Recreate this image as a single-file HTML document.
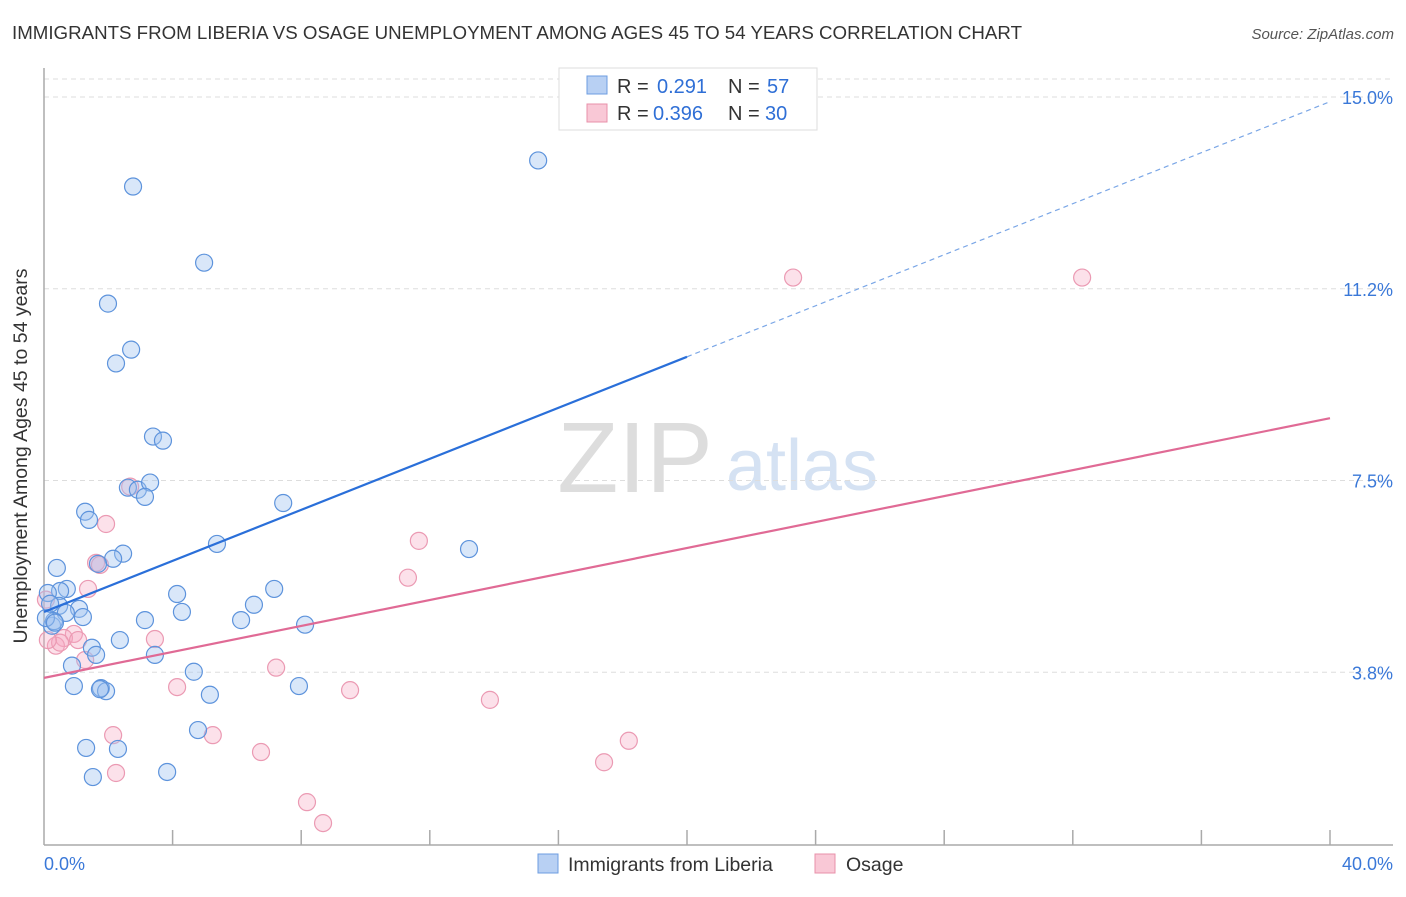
<!DOCTYPE html>
<html><head><meta charset="utf-8"><style>
body{margin:0;background:#fff;font-family:"Liberation Sans",sans-serif}
svg text{font-family:"Liberation Sans",sans-serif}
</style></head><body>
<svg id="chart" width="1406" height="892" viewBox="0 0 1406 892" xmlns="http://www.w3.org/2000/svg">
<text x="12" y="39" font-size="18" fill="#333" textLength="1010" lengthAdjust="spacingAndGlyphs">IMMIGRANTS FROM LIBERIA VS OSAGE UNEMPLOYMENT AMONG AGES 45 TO 54 YEARS CORRELATION CHART</text>
<text x="1394" y="39" font-size="15" fill="#555" font-style="italic" text-anchor="end">Source: ZipAtlas.com</text>
<g><text x="635" y="492" font-size="100" fill="#ddd" font-family="Liberation Serif" text-anchor="middle">ZIP</text><text x="802" y="490" font-size="72" fill="#d5e2f3" text-anchor="middle">atlas</text></g>
<g id="grid"></g>
<g id="axes"></g>
<g id="pts"></g>
<g id="trend"></g>
<text x="27" y="456" font-size="19.5" fill="#333" text-anchor="middle" transform="rotate(-90 27 456)">Unemployment Among Ages 45 to 54 years</text>
<g>
<rect x="559" y="68" width="258" height="62" fill="#fff" stroke="#ddd"/>
<rect x="587" y="76" width="20" height="18" fill="#b8d0f3" stroke="#6d9de0"/>
<text y="93" font-size="20" fill="#333"><tspan x="617">R =</tspan><tspan x="657" fill="#2f6fd6">0.291</tspan><tspan x="728">N =</tspan><tspan x="767" fill="#2f6fd6">57</tspan></text>
<rect x="587" y="104" width="20" height="18" fill="#f9c8d6" stroke="#e890aa"/>
<text y="120" font-size="20" fill="#333"><tspan x="617">R =</tspan><tspan x="653" fill="#2f6fd6">0.396</tspan><tspan x="728">N =</tspan><tspan x="765" fill="#2f6fd6">30</tspan></text>
</g>
<g>
<rect x="538" y="854" width="20" height="19" fill="#b8d0f3" stroke="#6d9de0"/>
<text x="568" y="871" font-size="19.5" fill="#333">Immigrants from Liberia</text>
<rect x="815" y="854" width="20" height="19" fill="#f9c8d6" stroke="#e890aa"/>
<text x="846" y="871" font-size="19.5" fill="#333">Osage</text>
</g>
</svg>
<script>
const xTicks=[0,40];
const yTicks=[3.75,7.5,11.25,15];
const yTickLabels=["3.8%","7.5%","11.2%","15.0%"];
const blueX=[2.77,15.37,4.98,1.99,2.71,2.24,3.39,3.70,2.61,2.92,3.30,3.14,7.44,1.28,1.40,5.38,13.22,2.46,2.15,0.40,1.68,0.71,0.50,7.16,4.14,0.12,0.47,1.09,0.68,6.53,4.29,1.21,3.14,6.13,8.12,0.25,0.31,2.36,1.49,1.62,3.45,0.87,4.66,0.93,1.77,1.93,5.16,7.93,1.31,2.30,4.79,1.52,3.83,0.06,0.19,1.74,0.34];
const blueY=[13.25,13.76,11.76,10.96,10.06,9.79,8.36,8.28,7.36,7.32,7.46,7.18,7.06,6.89,6.73,6.26,6.16,6.07,5.97,5.79,5.87,5.38,5.34,5.38,5.28,5.30,5.05,4.99,4.91,5.07,4.93,4.83,4.77,4.77,4.68,4.66,4.75,4.38,4.23,4.09,4.09,3.88,3.76,3.48,3.44,3.38,3.31,3.48,2.27,2.25,2.62,1.70,1.80,4.81,5.09,3.42,4.72];
const pinkX=[23.30,32.29,1.93,2.68,11.66,11.32,1.62,1.74,1.37,0.93,0.62,1.06,3.45,0.37,0.50,7.22,4.14,9.52,13.87,5.25,2.15,18.19,6.75,17.42,2.24,8.18,8.68,0.12,1.28,0.06];
const pinkY=[11.47,11.47,6.65,7.38,6.32,5.60,5.89,5.85,5.38,4.50,4.42,4.38,4.40,4.27,4.33,3.84,3.46,3.40,3.21,2.52,2.52,2.41,2.19,1.99,1.78,1.21,0.80,4.38,3.99,5.17];
const blueFit=[4.93,9.92];
const pinkFit=[3.64,8.72];
const NS="http://www.w3.org/2000/svg";
const X=v=>44+v/40*1286, Y=v=>864-v*51.13;
function mk(t,a,p){const e=document.createElementNS(NS,t);for(const k in a)e.setAttribute(k,a[k]);p.appendChild(e);return e;}
const grid=document.getElementById('grid'),axes=document.getElementById('axes');
yTicks.forEach((v,i)=>{
 const l=mk('line',{x1:44,x2:1393,y1:Y(v),y2:Y(v),stroke:'#ddd','stroke-dasharray':'5,4'},grid);
 
 
 const t=mk('text',{x:1393,y:Y(v)+7,'font-size':18,fill:'#3a78d8','text-anchor':'end'},axes);
 t.textContent=yTickLabels[i];
 
 
});
const tl=mk('line',{x1:44,x2:1393,y1:79,y2:79,stroke:'#ddd','stroke-dasharray':'5,4'},grid);


mk('line',{x1:44,x2:44,y1:68,y2:845,stroke:'#aaa','stroke-width':1.5},axes);
mk('line',{x1:44,x2:1393,y1:845,y2:845,stroke:'#aaa','stroke-width':1.5},axes);
for(let i=1;i<=10;i++){const tk=mk('line',{x1:X(i*4),x2:X(i*4),y1:830,y2:845,stroke:'#aaa','stroke-width':1.5},axes);
 
 }
xTicks.forEach(v=>{const t=mk('text',{x:v==0?44:1393,y:870,'font-size':18,fill:'#3a78d8','text-anchor':v==0?'start':'end'},axes);
 t.textContent=v.toFixed(1)+'%';
 
 });
const pts=document.getElementById('pts');
pinkX.forEach((x,i)=>{const c=mk('circle',{cx:X(x),cy:Y(pinkY[i]),r:8.5,fill:'rgba(246,170,195,0.35)',stroke:'#eb9ab3','stroke-width':1.2},pts);
 
 });
blueX.forEach((x,i)=>{const c=mk('circle',{cx:X(x),cy:Y(blueY[i]),r:8.5,fill:'rgba(160,195,240,0.4)',stroke:'#5d93dc','stroke-width':1.2},pts);
 
 });
const tr=document.getElementById('trend');
const bAt=x=>blueFit[0]+(blueFit[1]-blueFit[0])*x/20;
const b1=mk('line',{x1:X(0),y1:Y(bAt(0)),x2:X(20),y2:Y(bAt(20)),stroke:'#2a6fd9','stroke-width':2.2},tr);


const b2=mk('line',{x1:X(20),y1:Y(bAt(20)),x2:X(40),y2:Y(bAt(40)),stroke:'#7aa6e6','stroke-width':1.2,'stroke-dasharray':'5,4'},tr);


const p1=mk('line',{x1:X(0),y1:Y(pinkFit[0]),x2:X(40),y2:Y(pinkFit[1]),stroke:'#e06a95','stroke-width':2.2},tr);


</script>
</body></html>
